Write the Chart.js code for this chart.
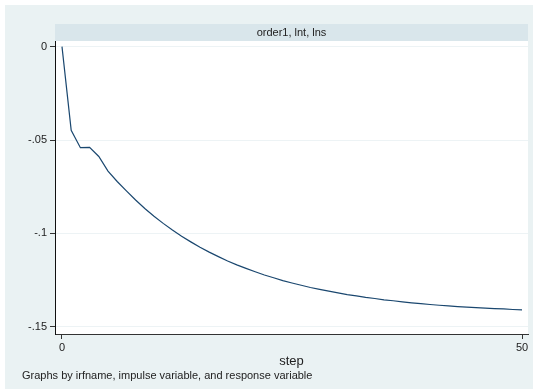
<!DOCTYPE html>
<html>
<head>
<meta charset="utf-8">
<script src="https://cdn.jsdelivr.net/npm/chart.js@4"></script>
<style>
  html, body { margin: 0; padding: 0; background: #fff; }
  #wrap { width: 536px; height: 392px; }
</style>
</head>
<body>
<div id="wrap"><canvas id="irf" width="536" height="392"></canvas></div>
<script>
// ── data ─────────────────────────────────────────────────────────────────
const steps = [
  0, 1, 2, 3, 4, 5, 6, 7, 8, 9, 10, 11, 12, 13, 14, 15, 16, 17, 18, 19, 20,
  21, 22, 23, 24, 25, 26, 27, 28, 29, 30, 31, 32, 33, 34, 35, 36, 37, 38, 39, 40,
  41, 42, 43, 44, 45, 46, 47, 48, 49, 50
];
const irfValues = [
  0, -0.0448, -0.0541, -0.0539, -0.0588, -0.0666, -0.0722, -0.0772, -0.0821, -0.0866,
  -0.0908, -0.0946, -0.0982, -0.1015, -0.1045, -0.1074, -0.1100, -0.1124, -0.1147, -0.1168,
  -0.1187, -0.1205, -0.1222, -0.1237, -0.1252, -0.1265, -0.1277, -0.1289, -0.1299, -0.1309,
  -0.1318, -0.1327, -0.1334, -0.1342, -0.1348, -0.1355, -0.1360, -0.1366, -0.1371, -0.1375,
  -0.1380, -0.1384, -0.1387, -0.1391, -0.1394, -0.1397, -0.1400, -0.1402, -0.1404, -0.1407,
  -0.1409
];
const xTicks = [0, 50];
const yTicks = [0, -0.05, -0.1, -0.15];
const yTickLabels = { '0': '0', '-0.05': '-.05', '-0.1': '-.1', '-0.15': '-.15' };

const panelTitle = 'order1, lnt, lns';
const xTitle     = 'step';
const footNote   = 'Graphs by irfname, impulse variable, and response variable';

const FONT = '"Liberation Sans", Arial, sans-serif';

// ── background, panel header, axis title and note ──────────────────────
const stataFrame = {
  id: 'stataFrame',
  beforeDraw(chart) {
    const { ctx, chartArea: a } = chart;
    ctx.save();
    ctx.fillStyle = '#eaf2f3';
    ctx.fillRect(5, 5, 528, 384);
    ctx.fillStyle = '#d9e6eb';
    ctx.fillRect(a.left, 24, a.right - a.left, a.top - 24);
    ctx.fillStyle = '#ffffff';
    ctx.fillRect(a.left, a.top, a.right - a.left, a.bottom - a.top);
    ctx.fillStyle = '#222';
    ctx.font = `11px ${FONT}`;
    ctx.textAlign = 'center';
    ctx.textBaseline = 'middle';
    ctx.fillText(panelTitle, (a.left + a.right) / 2, 32.5);
    ctx.font = `13px ${FONT}`;
    ctx.fillText(xTitle, (a.left + a.right) / 2, 361);
    ctx.font = `11px ${FONT}`;
    ctx.textAlign = 'left';
    ctx.fillText(footNote, 22, 376);
    ctx.restore();
  },
};

new Chart(document.getElementById('irf'), {
  type: 'line',
  data: {
    datasets: [{
      data: steps.map((s, i) => ({ x: s, y: irfValues[i] })),
      borderColor: '#1a476f',
      borderWidth: 1.2,
      pointRadius: 0,
      tension: 0,
      fill: false,
    }],
  },
  options: {
    responsive: false,
    animation: false,
    devicePixelRatio: 1,
    layout: { padding: { left: 0, top: 41, right: 8, bottom: 37 } },
    plugins: { legend: { display: false }, tooltip: { enabled: false } },
    scales: {
      x: {
        type: 'linear',
        min: -0.76,
        max: 50.65,
        afterBuildTicks: s => { s.ticks = xTicks.map(v => ({ value: v })); },
        afterFit: s => { s.height = 21; },
        ticks: { color: '#222', font: { family: FONT, size: 11 }, padding: 2, maxRotation: 0 },
        grid: { drawOnChartArea: false, tickLength: 5, tickColor: '#333' },
        border: { color: '#333', width: 1 },
      },
      y: {
        min: -0.1538,
        max: 0.003,
        afterBuildTicks: s => { s.ticks = yTicks.map(v => ({ value: v })); },
        afterFit: s => { s.width = 55; },
        ticks: {
          color: '#222',
          font: { family: FONT, size: 11 },
          padding: 3,
          callback: v => yTickLabels[String(v)] ?? '',
        },
        grid: { color: '#edf3f5', tickLength: 5, tickColor: '#333' },
        border: { color: '#111', width: 1 },
      },
    },
  },
  plugins: [stataFrame],
});
</script>
</body>
</html>
